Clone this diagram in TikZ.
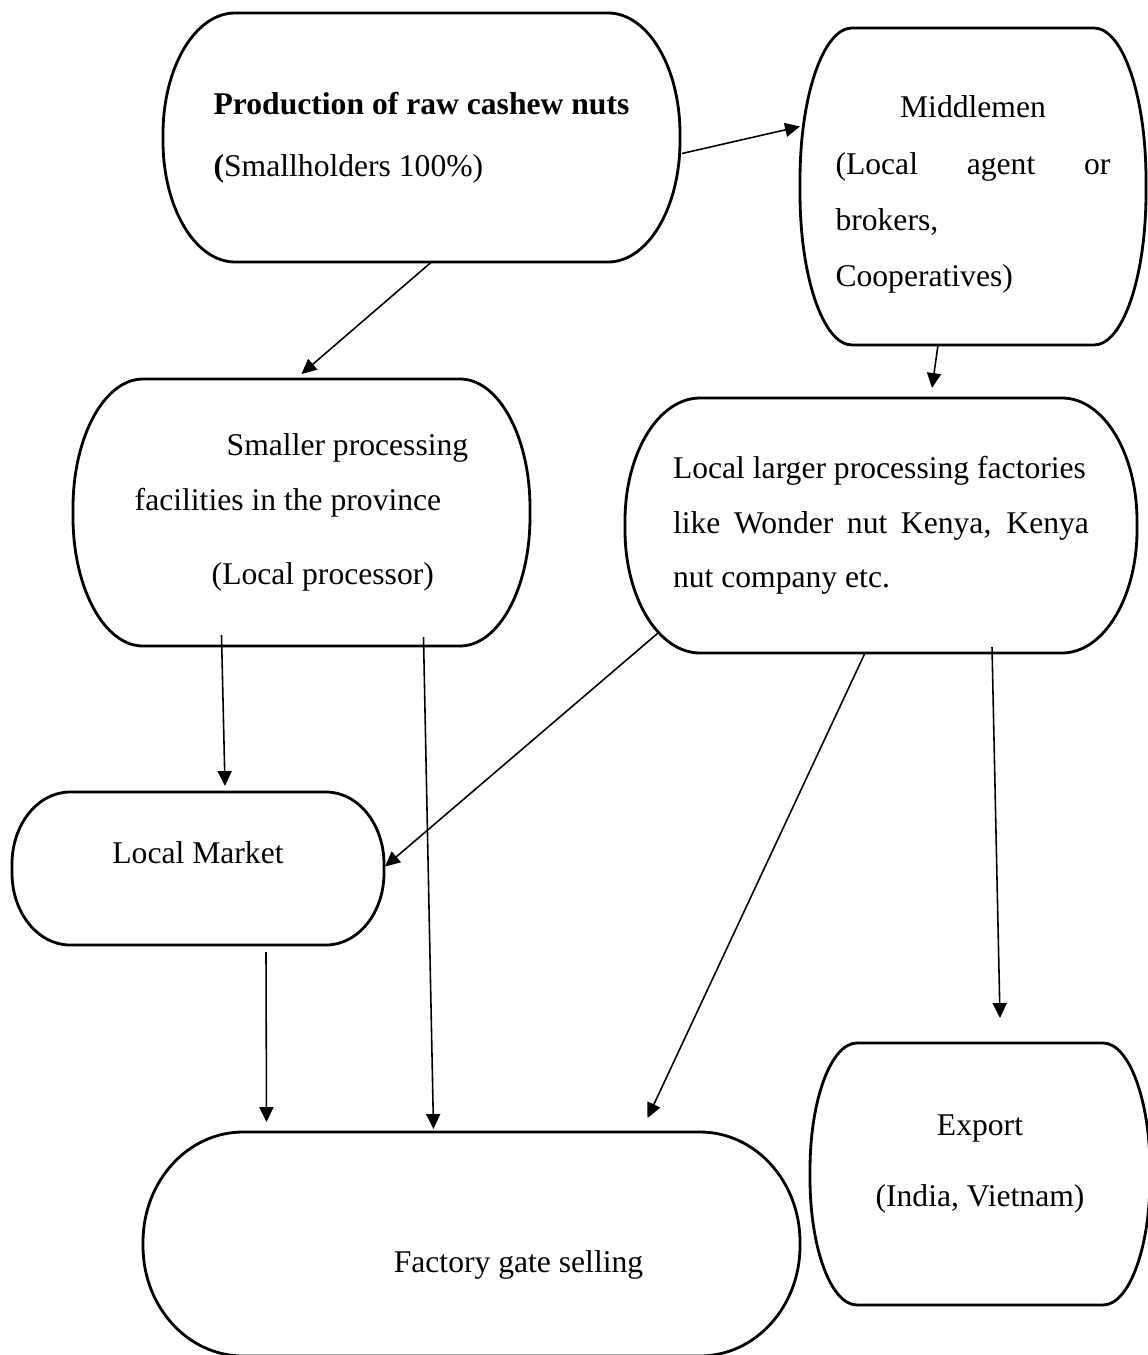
\documentclass[tikz,border=0pt]{standalone}
\usepackage{fontspec}
\setmainfont{Liberation Serif}
\usepackage{tikz}
\usetikzlibrary{arrows.meta,calc}
\newlength{\pxu}
\setlength{\pxu}{0.02cm}

\begin{document}
\begin{tikzpicture}[x=0.02cm,y=-0.02cm,
  box/.style={rectangle,inner sep=0pt,outer sep=0pt,font=\fontsize{18pt}{31pt}\selectfont},
  outline/.style={line width=1.6pt},
  flow/.style={line width=0.9pt,-{Triangle[length=8.5pt,width=8pt]}}]
\useasboundingbox (0,0) rectangle (1147,1355);
% boxes
\node[box,minimum width=517\pxu,minimum height=249\pxu,align=left] (prod) at (421.5,137.5)
  {\textbf{Production of raw cashew nuts}\\[4pt]\textbf{(}Smallholders 100\%)};
\node[box,minimum width=346\pxu,minimum height=317\pxu,align=left] (mid) at (973,186.5)
  {\rule{0pt}{38\pxu}\makebox[275\pxu]{Middlemen}\\[1pt]\makebox[275\pxu][s]{(Local agent or}\\[1pt]brokers,\\[1pt]Cooperatives)};
\node[box,minimum width=457\pxu,minimum height=267\pxu,align=left] (small) at (301.5,512.5)
  {\hspace*{92\pxu}Smaller processing\\facilities in the province\\[11pt]\hspace*{77\pxu}(Local processor)};
\node[box,minimum width=512\pxu,minimum height=255\pxu,align=left] (large) at (881,525.5)
  {Local larger processing factories\\\makebox[416\pxu][s]{like Wonder nut Kenya, Kenya}\\nut company etc.};
\node[box,minimum width=372\pxu,minimum height=153\pxu] (market) at (198,868.5)
  {\raisebox{16\pxu}[\height][\depth]{Local Market}};
\node[box,minimum width=657\pxu,minimum height=224\pxu] (factory) at (471.5,1244)
  {\raisebox{-21\pxu}[\height][\depth]{\hspace*{94\pxu}Factory gate selling}};
\node[box,minimum width=340\pxu,minimum height=262\pxu,align=center] (export) at (980,1174)
  {Export\\[9.8pt](India, Vietnam)\rule[-27\pxu]{0pt}{27\pxu}};
% outlines
\foreach \nm/\rx/\ry in {prod/72/121,mid/52/152,small/70/129,large/75/123,market/58/72,factory/100/110,export/47/127}
  \draw[outline] ([xshift=\rx\pxu]\nm.north west) -- ([xshift=-\rx\pxu]\nm.north east)
    arc[start angle=90,end angle=0,x radius=\rx\pxu,y radius=\ry\pxu]
    -- ([yshift=\ry\pxu]\nm.south east)
    arc[start angle=0,end angle=-90,x radius=\rx\pxu,y radius=\ry\pxu]
    -- ([xshift=\rx\pxu]\nm.south west)
    arc[start angle=-90,end angle=-180,x radius=\rx\pxu,y radius=\ry\pxu]
    -- ([yshift=-\ry\pxu]\nm.north west)
    arc[start angle=180,end angle=90,x radius=\rx\pxu,y radius=\ry\pxu]
    -- cycle;
% arrows
\foreach \a/\ax/\ay/\b/\bx/\by in {prod.east/2/16/mid.west/0/-60,
    prod.south/10/0/small.north/0/-5,
    mid.south/-35/0/large.north/51/-10,
    small.south/-80/-11/market.north/27/-6,
    small.south/122/-9/factory.north/-38/-3,
    large.south/-223/-20/market.east/1/-2,
    large.south/-16/0/factory.north/176/-14,
    large.south/111/-6/export.north/20/-25,
    market.south/68/7/factory.north/-205/-10}
  \draw[flow] ($(\a)+(\ax,\ay)$) -- ($(\b)+(\bx,\by)$);
\end{tikzpicture}
\end{document}
